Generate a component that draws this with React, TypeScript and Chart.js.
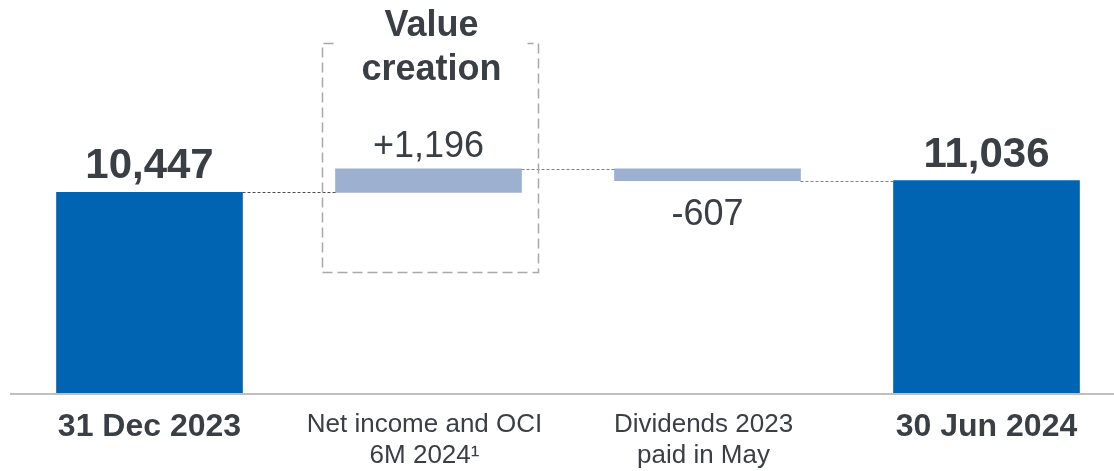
import React, { useEffect, useRef } from "react";
import { Chart, registerables } from "chart.js";

Chart.register(...registerables);

// ---- data ----
const categories: string[][] = [
  ["31 Dec 2023"],
  ["Net income and OCI", "6M 2024¹"],
  ["Dividends 2023", "paid in May"],
  ["30 Jun 2024"],
];
const startValue = 10447;
const changes = [1196, -607];
const endValue = 11036;
const valueLabels = ["10,447", "+1,196", "-607", "11,036"];
const totalFlags = [true, false, false, true];
const boxTitle = ["Value", "creation"];

// ---- styles ----
const FONT = "'Liberation Sans', Arial, sans-serif";
const TEXT = "#3a3f45";
const DARK_BLUE = "#0064b2";
const LIGHT_BLUE = "#9db0cf";
const Y_MIN = 275;
const Y_MAX = 20194;

function buildData(): (number | [number, number])[] {
  const out: (number | [number, number])[] = [startValue];
  let run = startValue;
  for (const c of changes) {
    out.push([run, run + c]);
    run += c;
  }
  out.push(endValue);
  return out;
}

const waterfallPlugin = {
  id: "waterfallDecor",
  afterDatasetsDraw(chart: any) {
    const { ctx, chartArea } = chart;
    const meta = chart.getDatasetMeta(0);
    const yScale = chart.scales.y;
    const data = chart.data.datasets[0].data as any[];
    const bars = meta.data;

    const levels: number[] = [];
    data.forEach((d: any) => {
      levels.push(Array.isArray(d) ? d[1] : d);
    });

    // connectors
    ctx.save();
    ctx.lineWidth = 1;
    ctx.setLineDash([3, 2]);
    for (let i = 0; i < bars.length - 1; i++) {
      const a = bars[i];
      const b = bars[i + 1];
      const y = Math.round(yScale.getPixelForValue(levels[i])) + 0.5;
      ctx.strokeStyle = i === 0 ? "#4a4f55" : "#7d8085";
      ctx.beginPath();
      ctx.moveTo(a.x + a.width / 2, y);
      ctx.lineTo(b.x - b.width / 2, y);
      ctx.stroke();
    }
    ctx.restore();

    // axis line
    ctx.save();
    ctx.strokeStyle = "#bfbfbf";
    ctx.lineWidth = 2;
    ctx.beginPath();
    ctx.moveTo(chartArea.left, chartArea.bottom + 1);
    ctx.lineTo(chart.width, chartArea.bottom + 1);
    ctx.stroke();
    ctx.restore();

    // value labels
    ctx.save();
    ctx.fillStyle = TEXT;
    ctx.textAlign = "center";
    ctx.textBaseline = "alphabetic";
    bars.forEach((bar: any, i: number) => {
      const d = data[i];
      if (totalFlags[i]) {
        ctx.font = `bold 42px ${FONT}`;
        ctx.fillText(valueLabels[i], bar.x, bar.y - 14);
      } else {
        const [s, e] = d as [number, number];
        ctx.font = `36px ${FONT}`;
        if (e >= s) {
          ctx.fillText(valueLabels[i], bar.x, yScale.getPixelForValue(e) - 12);
        } else {
          ctx.fillText(valueLabels[i], bar.x, yScale.getPixelForValue(e) + 44);
        }
      }
    });

    // category labels
    bars.forEach((bar: any, i: number) => {
      const lines = categories[i];
      if (totalFlags[i]) {
        ctx.font = `bold 32px ${FONT}`;
        ctx.fillText(lines[0], bar.x, chartArea.bottom + 43);
      } else {
        ctx.font = `26px ${FONT}`;
        lines.forEach((ln, k) => {
          ctx.fillText(ln, bar.x - 4, chartArea.bottom + 39 + k * 31);
        });
      }
    });
    ctx.restore();

    // dashed "value creation" box around the positive change
    const b2 = bars[1];
    const left = Math.round(b2.x - 106.5) + 0.5;
    const right = Math.round(b2.x + 109.5) + 0.5;
    const top = 43.5;
    const bottom = 272.5;
    ctx.save();
    ctx.strokeStyle = "#a9a9a9";
    ctx.lineWidth = 1.5;
    ctx.setLineDash([10, 5]);
    ctx.beginPath();
    ctx.moveTo(left + 11, top);
    ctx.lineTo(left, top);
    ctx.lineTo(left, bottom);
    ctx.lineTo(right, bottom);
    ctx.lineTo(right, top);
    ctx.lineTo(right - 11, top);
    ctx.stroke();
    ctx.restore();

    ctx.save();
    ctx.fillStyle = TEXT;
    ctx.textAlign = "center";
    ctx.textBaseline = "alphabetic";
    ctx.font = `bold 36px ${FONT}`;
    const cx = (left + right) / 2 + 1;
    ctx.fillText(boxTitle[0], cx, 36);
    ctx.fillText(boxTitle[1], cx, 80);
    ctx.restore();
  },
};

export default function App() {
  const canvasRef = useRef<HTMLCanvasElement | null>(null);

  useEffect(() => {
    const canvas = canvasRef.current;
    if (!canvas) return;
    const data = buildData();
    const chart = new Chart(canvas, {
      type: "bar",
      data: {
        labels: categories.map((c) => c.join(" ")),
        datasets: [
          {
            data: data as any,
            backgroundColor: totalFlags.map((t) => (t ? DARK_BLUE : LIGHT_BLUE)),
            borderWidth: 0,
            barThickness: 186,
          },
        ],
      },
      options: {
        responsive: false,
        animation: false,
        devicePixelRatio: 1,
        layout: { padding: { left: 10, right: 0, top: 0, bottom: 78 } },
        plugins: {
          legend: { display: false },
          tooltip: { enabled: false },
          title: { display: false },
        },
        scales: {
          x: { display: false, offset: true, grid: { display: false } },
          y: { display: false, min: Y_MIN, max: Y_MAX, grid: { display: false } },
        },
      },
      plugins: [waterfallPlugin],
    });
    return () => chart.destroy();
  }, []);

  return (
    <div
      style={{
        position: "fixed",
        left: 0,
        top: 0,
        width: 1114,
        height: 471,
        overflow: "hidden",
        background: "#ffffff",
      }}
    >
      <canvas
        ref={canvasRef}
        width={1126}
        height={471}
        style={{ display: "block", width: 1126, height: 471 }}
      />
    </div>
  );
}
